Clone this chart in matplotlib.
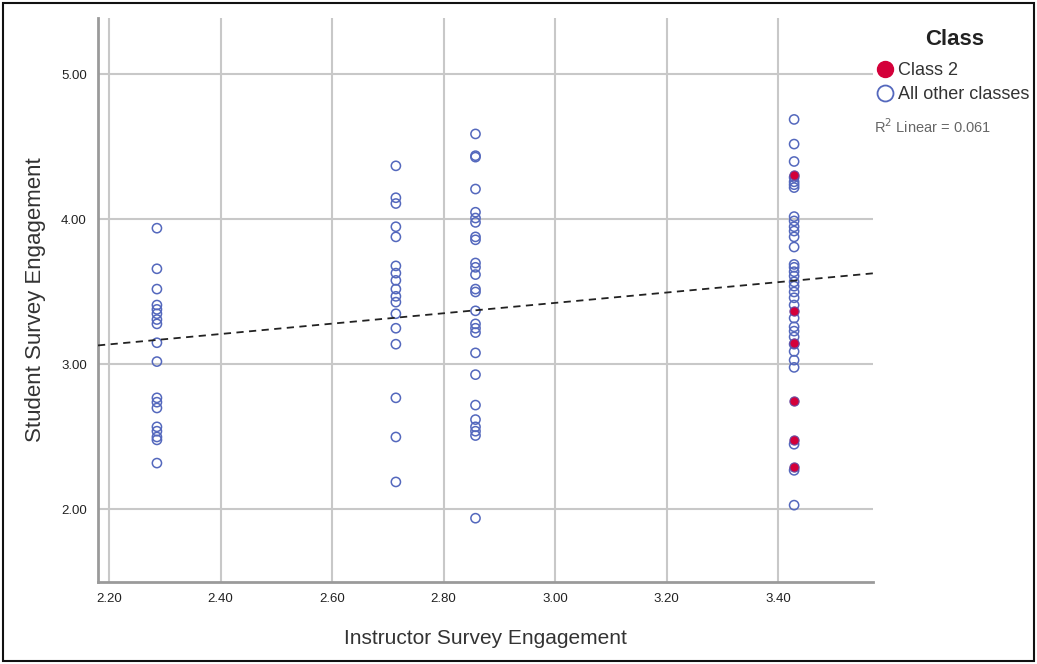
import matplotlib.pyplot as plt
from matplotlib.lines import Line2D
import numpy as np

plt.rcParams['font.family'] = ['Liberation Sans', 'DejaVu Sans']

# Instructor engagement levels (x) and the student engagement values in each column
x_levels = [2.2857, 2.7143, 2.8571, 3.4286]

others_col1 = [3.94, 3.66, 3.52, 3.41, 3.38, 3.35, 3.31, 3.28, 3.15, 3.02,
               2.77, 2.74, 2.70, 2.57, 2.54, 2.50, 2.48, 2.32]
others_col2 = [4.37, 4.15, 4.11, 3.95, 3.88, 3.68, 3.63, 3.58, 3.52, 3.47,
               3.43, 3.35, 3.25, 3.14, 2.77, 2.50, 2.19]
others_col3 = [4.59, 4.44, 4.43, 4.21, 4.05, 4.01, 3.98, 3.88, 3.86, 3.70,
               3.67, 3.62, 3.52, 3.50, 3.37, 3.28, 3.25, 3.22, 3.08, 2.93,
               2.72, 2.62, 2.57, 2.54, 2.51, 1.94]
others_col4 = [4.69, 4.52, 4.40, 4.29, 4.26, 4.24, 4.22, 4.02, 3.99, 3.95,
               3.92, 3.88, 3.81, 3.69, 3.67, 3.64, 3.61, 3.57, 3.54, 3.50,
               3.46, 3.41, 3.32, 3.26, 3.23, 3.19, 3.14, 3.09, 3.03, 2.98,
               2.45, 2.27, 2.03]
class2_col4 = [4.31, 3.37, 3.15, 2.75, 2.48, 2.29]

# Fit line as reported on the chart
fit_intercept = 2.352
fit_slope = 0.3576
r2_text = 'R$^2$ Linear = 0.061'

x_ticks = [2.2, 2.4, 2.6, 2.8, 3.0, 3.2, 3.4]
y_ticks = [2.0, 3.0, 4.0, 5.0]

blue = '#5468bd'
red = '#d4003a'


def plot_data():
    figure = plt.figure(figsize=(10.37, 6.64), dpi=100)
    ax = figure.add_axes([0.0945, 0.1235, 0.7473, 0.8495])

    # Scatter columns
    other_cols = [others_col1, others_col2, others_col3, others_col4]
    for xv, col in zip(x_levels, other_cols):
        ax.scatter([xv] * len(col), col, s=44, facecolors='none',
                   edgecolors=blue, linewidths=1.1, zorder=3)
    ax.scatter([x_levels[3]] * len(class2_col4), class2_col4, s=44,
               facecolors=red, edgecolors='#6a4aa0', linewidths=0.8, zorder=4)

    # Linear fit
    xs = np.array([2.18, 3.57])
    ax.plot(xs, fit_intercept + fit_slope * xs, ls=(0, (4, 3)), color='#222222',
            lw=1.3, zorder=5)

    # Axes formatting
    ax.set_xlim(2.18, 3.57)
    ax.set_ylim(1.5, 5.39)
    ax.set_xticks(x_ticks)
    ax.set_yticks(y_ticks)
    ax.set_xticklabels([f'{t:.2f}' for t in x_ticks])
    ax.set_yticklabels([f'{t:.2f}' for t in y_ticks])
    ax.tick_params(length=0, labelsize=9.5, colors='#222222', pad=8)
    ax.grid(True, color='#c8c8c8', lw=1.5, zorder=0)
    ax.set_axisbelow(True)
    for side in ['top', 'right']:
        ax.spines[side].set_visible(False)
    for side in ['left', 'bottom']:
        ax.spines[side].set_color('#9a9a9a')
        ax.spines[side].set_linewidth(2)

    ax.set_xlabel('Instructor Survey Engagement', fontsize=15, color='#333333',
                  labelpad=17)
    ax.set_ylabel('Student Survey Engagement', fontsize=16, color='#333333',
                  labelpad=11)

    # Legend (title drawn separately for spacing)
    figure.text(0.921, 0.941, 'Class', fontsize=16, fontweight='bold',
                color='#222222', ha='center', va='center')
    handles = [
        Line2D([], [], marker='o', ls='none', markersize=11.5,
               markerfacecolor=red, markeredgecolor=red),
        Line2D([], [], marker='o', ls='none', markersize=11.5,
               markerfacecolor='none', markeredgecolor=blue, markeredgewidth=1.3),
    ]
    figure.legend(handles, ['Class 2', 'All other classes'],
                  loc='upper left', bbox_to_anchor=(0.844, 0.906),
                  frameon=False, fontsize=13, handletextpad=0.15,
                  labelspacing=0.38, borderaxespad=0, borderpad=0,
                  handlelength=1.1, labelcolor='#333333')
    figure.text(0.843, 0.810, r2_text, fontsize=10.5, color='#666666',
                va='center')

    # Outer frame
    figure.patches.append(plt.Rectangle((0.003, 0.004), 0.994, 0.992,
                                        transform=figure.transFigure,
                                        fill=False, ec='#111111', lw=1.5))

    figure.savefig('out.png', dpi=100)


if __name__ == '__main__':
    plot_data()
